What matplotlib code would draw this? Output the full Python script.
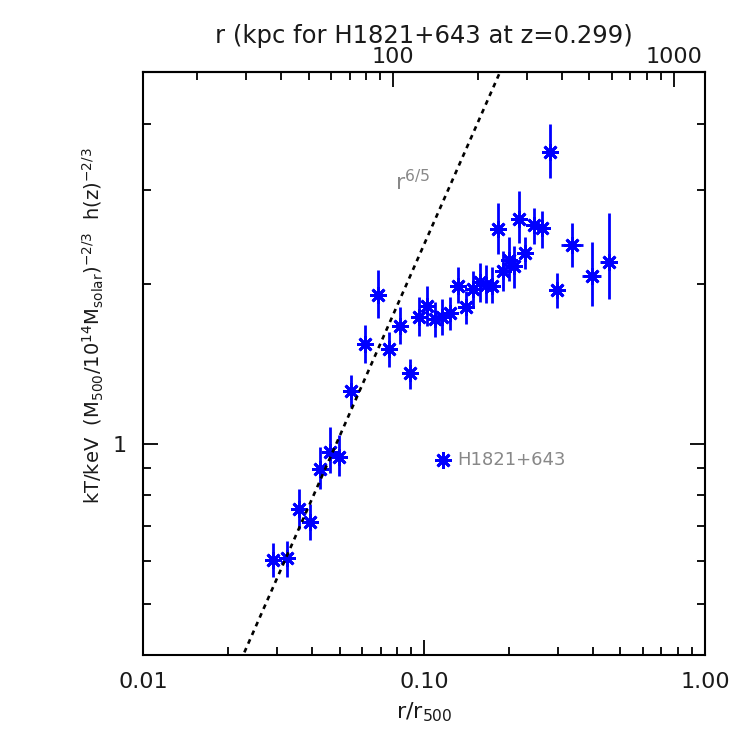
import numpy as np
import matplotlib
matplotlib.use("Agg")
import matplotlib.pyplot as plt
from matplotlib.ticker import FixedLocator, FixedFormatter, NullFormatter

# ---- data ----
r_r500 = [0.02902, 0.03254, 0.03581, 0.03918, 0.04265, 0.04605, 0.04960, 0.05471,
          0.06136, 0.06827, 0.07506, 0.08195, 0.08894, 0.09553, 0.1025, 0.1089,
          0.1156, 0.1234, 0.1321, 0.1407, 0.1491, 0.1578, 0.1662, 0.1746,
          0.1832, 0.1910, 0.1997, 0.2085, 0.2169, 0.2291, 0.2457, 0.2638,
          0.2802, 0.2983, 0.3354, 0.3953, 0.4553]
r_lo = list(r_r500[:34]) + [0.3065, 0.3650, 0.4244]
r_hi = list(r_r500[:34]) + [0.3663, 0.4254, 0.4728]
kT = [0.603, 0.608, 0.752, 0.711, 0.894, 0.965, 0.944, 1.256,
      1.538, 1.904, 1.504, 1.667, 1.356, 1.733, 1.815, 1.713,
      1.733, 1.758, 1.982, 1.805, 1.951, 2.012, 1.988, 1.982,
      2.534, 2.110, 2.216, 2.159, 2.652, 2.281, 2.579, 2.542,
      3.534, 1.945, 2.362, 2.070, 2.196]
kT_lo = [0.561, 0.561, 0.690, 0.658, 0.820, 0.881, 0.870, 1.173,
         1.416, 1.721, 1.395, 1.539, 1.268, 1.596, 1.667, 1.585,
         1.601, 1.636, 1.837, 1.677, 1.810, 1.849, 1.841, 1.837,
         2.271, 1.937, 2.023, 1.960, 2.388, 2.128, 2.375, 2.337,
         3.158, 1.797, 2.147, 1.815, 1.871]
kT_hi = [0.649, 0.655, 0.823, 0.769, 0.984, 1.073, 1.036, 1.346,
         1.672, 2.122, 1.622, 1.810, 1.440, 1.885, 1.982, 1.849,
         1.868, 1.885, 2.152, 1.940, 2.115, 2.190, 2.168, 2.147,
         2.841, 2.307, 2.445, 2.358, 2.989, 2.445, 2.780, 2.744,
         3.997, 2.097, 2.598, 2.392, 2.713]

slope = 6.0 / 5.0          # r^(6/5) reference line
norm = 37.6
r500_kpc = 1290.0          # kpc for H1821+643
legend_pt = (0.1163, 0.931)

x_ticks_major = [0.01, 0.1, 1.0]
x_tick_labels = ["0.01", "0.10", "1.00"]
x_ticks_minor = [0.02, 0.03, 0.04, 0.05, 0.06, 0.07, 0.08, 0.09,
                 0.2, 0.3, 0.4, 0.5, 0.6, 0.7, 0.8, 0.9]
y_ticks_major = [1.0]
y_tick_labels = ["1"]
y_ticks_minor = [0.5, 0.6, 0.7, 0.8, 0.9, 2, 3, 4]
kpc_major = [100, 1000]
kpc_labels = ["100", "1000"]
kpc_minor = [20, 30, 40, 50, 60, 70, 80, 90, 200, 300, 400, 500, 600, 700, 800, 900]

# ---- figure ----
plt.rcParams["font.family"] = ["DejaVu Sans"]
plt.rcParams["mathtext.default"] = "regular"
txt = "#1a1a1a"

fig = plt.figure(figsize=(7.47, 7.47), dpi=100)
ax = fig.add_axes([143.3 / 747, 1 - 655 / 747, (705 - 143.3) / 747, (655 - 72.3) / 747])
ax.set_xscale("log")
ax.set_yscale("log")
ax.set_xlim(0.01, 1.0)
ax.set_ylim(0.4, 5.0)

blue = "#0000ff"
x = np.array(r_r500)
y = np.array(kT)
yerr = np.vstack([y - np.array(kT_lo), np.array(kT_hi) - y])
xerr = np.vstack([x - np.array(r_lo), np.array(r_hi) - x])
ax.errorbar(x, y, yerr=yerr, xerr=xerr, fmt="none", ecolor=blue, elinewidth=2.0, capsize=0)
ax.plot(x, y, linestyle="none", marker=(8, 2, 0), markersize=12, markeredgewidth=2.0,
        color=blue, markeredgecolor=blue)

# reference line
xl = np.array([0.01, 1.0])
ax.plot(xl, norm * xl ** slope, color="black", linestyle=(0, (1.8, 1.8)), linewidth=1.9)
ax.text(0.0785, 3.0, r"r$^{6/5}$", color="#888888", fontsize=16, ha="left", va="baseline")

# legend entry
ax.plot([legend_pt[0]], [legend_pt[1]], linestyle="none", marker=(8, 2, 0), markersize=12,
        markeredgewidth=2.0, color=blue)
ax.text(0.131, legend_pt[1], "H1821+643", color="#888888", fontsize=13, ha="left", va="center")

# ticks
ax.xaxis.set_major_locator(FixedLocator(x_ticks_major))
ax.xaxis.set_major_formatter(FixedFormatter(x_tick_labels))
ax.xaxis.set_minor_locator(FixedLocator(x_ticks_minor))
ax.xaxis.set_minor_formatter(NullFormatter())
ax.yaxis.set_major_locator(FixedLocator(y_ticks_major))
ax.yaxis.set_major_formatter(FixedFormatter(y_tick_labels))
ax.yaxis.set_minor_locator(FixedLocator(y_ticks_minor))
ax.yaxis.set_minor_formatter(NullFormatter())
ax.tick_params(which="both", direction="in", top=False, right=True, width=1.3,
               labelsize=16, pad=12, labelcolor=txt)
ax.tick_params(which="major", length=11)
ax.tick_params(which="minor", length=5.5)
for s in ax.spines.values():
    s.set_linewidth(1.5)

ax.set_xlabel(r"r/r$_{500}$", fontsize=16, labelpad=6, color=txt)
fig.text(93 / 747, 1 - 326 / 747,
         r"kT/keV  (M$_{500}$/10$^{14}$M$_{solar}$)$^{-2/3}$  h(z)$^{-2/3}$",
         rotation=90, ha="center", va="center", fontsize=14, color=txt)

# top axis in kpc
sec = ax.secondary_xaxis("top", functions=(lambda v: v * r500_kpc, lambda k: k / r500_kpc))
sec.xaxis.set_major_locator(FixedLocator(kpc_major))
sec.xaxis.set_major_formatter(FixedFormatter(kpc_labels))
sec.xaxis.set_minor_locator(FixedLocator(kpc_minor))
sec.xaxis.set_minor_formatter(NullFormatter())
sec.tick_params(which="both", direction="in", width=1.3, labelsize=16, pad=4, labelcolor=txt)
sec.tick_params(which="major", length=11)
sec.tick_params(which="minor", length=5.5)
sec.spines["top"].set_linewidth(1.5)
sec.set_xlabel("r (kpc for H1821+643 at z=0.299)", fontsize=17.5, labelpad=3, color=txt)

fig.savefig("out.png", dpi=100)
